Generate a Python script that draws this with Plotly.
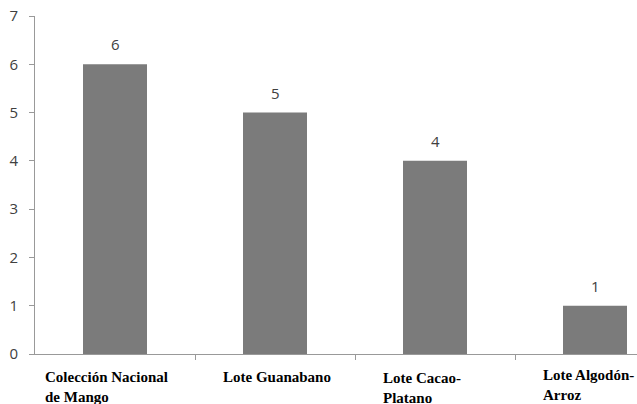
import plotly.graph_objects as go

categories = ["Colección Nacional de Mango", "Lote Guanabano", "Lote Cacao-Platano", "Lote Algodón-Arroz"]
label_text = ["Colección Nacional<br>de Mango", "Lote Guanabano", "Lote Cacao-<br>Platano", "Lote Algodón-<br>Arroz"]
values = [6, 5, 4, 1]
y_ticks = [0, 1, 2, 3, 4, 5, 6, 7]

# horizontal nudges and vertical drops for the category captions
label_dx = [-72, -54, -54, -54]
label_dy = [-0.037, -0.037, -0.040, -0.032]

fig = go.Figure(go.Bar(
    x=categories, y=values, width=0.4,
    marker=dict(color="#7b7b7b", line=dict(width=0)),
))

# value labels floating above each bar
for cat, v in zip(categories, values):
    fig.add_annotation(
        x=cat, y=v, text=str(v), showarrow=False, yanchor="bottom", yshift=8,
        font=dict(family="Open Sans, Liberation Sans, sans-serif", size=15, color="#404040"),
    )

for cat, txt, dx, dy in zip(categories, label_text, label_dx, label_dy):
    fig.add_annotation(
        x=cat, xref="x", y=dy, yref="paper", text="<b>" + txt.replace("<br>", "</b><br><b>") + "</b>",
        showarrow=False, xanchor="left", yanchor="top", align="left", xshift=dx,
        font=dict(family="Liberation Serif, Times New Roman, serif", size=15, color="#000000"),
    )

fig.update_layout(
    width=637, height=404,
    margin=dict(l=35, r=0, t=16, b=50),
    paper_bgcolor="white", plot_bgcolor="white",
    showlegend=False,
    xaxis=dict(
        range=[-0.5, 3.2625], showticklabels=False, showgrid=False,
        showline=True, linecolor="#999999", linewidth=1,
        ticks="outside", tickvals=[0.5, 1.5, 2.5], ticklen=5, tickcolor="#999999",
        fixedrange=True,
    ),
    yaxis=dict(
        range=[0, 7], tickvals=y_ticks, showgrid=False, zeroline=False,
        showline=True, linecolor="#999999", linewidth=1,
        ticks="outside", ticklen=5, tickcolor="#999999", ticklabelstandoff=8,
        tickfont=dict(family="Open Sans, Liberation Sans, sans-serif", size=15, color="#404040"),
    ),
)

fig.write_html("out.html")
